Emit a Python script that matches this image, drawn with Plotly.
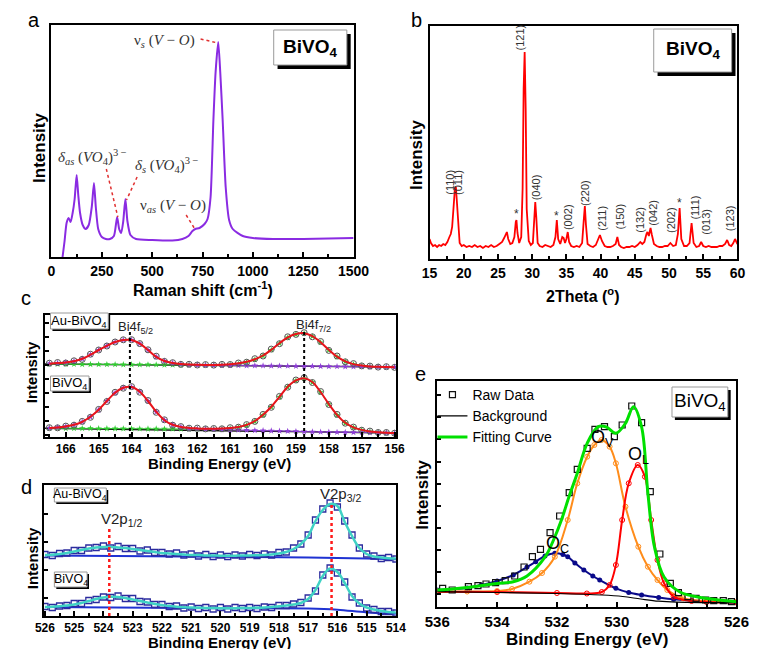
import plotly.graph_objects as go

W, H = 764, 649
FONT = "Liberation Sans"
SERIF = "Liberation Serif"

def px(x):
    return x / W

def py(y):
    return 1 - y / H

# ---------------- (a) Raman ----------------
raman_shift = [55, 65, 75, 85, 95, 105, 115, 125, 133, 142,
               155, 170, 185, 200, 211, 220, 232, 250, 270, 290,
               310, 326, 336, 346, 356, 367, 377, 392, 420, 500,
               600, 650, 680, 700, 714, 735, 760, 775, 790, 804,
               815, 828, 838, 850, 865, 882, 900, 950, 1000, 1100,
               1250, 1500]
raman_int = [0, 16, 34, 39, 35, 44, 58, 82, 62, 44,
             32, 28, 32, 50, 74, 50, 28, 20, 18, 18,
             21, 40, 28, 24, 35, 58, 36, 22, 18, 17,
             16.5, 18, 21, 26, 28, 29, 33, 38, 60, 137,
             185, 215, 185, 137, 70, 37, 28, 21, 19, 18,
             18, 19]
raman_ticks = [0, 250, 500, 750, 1000, 1250, 1500]

# ---------------- (b) XRD ----------------
xrd_2theta = [15.0, 15.2, 15.5, 15.8, 16.1, 16.4, 16.7, 17.0, 17.3, 17.6,
              17.9, 18.1, 18.3, 18.5, 18.7, 18.85, 19.0, 19.2, 19.4, 19.7,
              20.0, 20.4, 20.8, 21.2, 21.6, 22.0, 22.4, 22.8, 23.2, 23.6,
              24.0, 24.4, 24.8, 25.2, 25.6, 25.9, 26.1, 26.3, 26.5, 26.8,
              27.1, 27.4, 27.6, 27.7, 27.85, 28.1, 28.4, 28.6, 28.75, 28.9,
              29.05, 29.2, 29.5, 29.8, 30.1, 30.3, 30.45, 30.6, 30.8, 31.1,
              31.5, 31.9, 32.3, 32.7, 33.1, 33.4, 33.6, 33.8, 34.1, 34.4,
              34.6, 34.8, 35.0, 35.2, 35.4, 35.7, 36.1, 36.5, 36.9, 37.3,
              37.55, 37.7, 37.85, 38.1, 38.5, 38.9, 39.3, 39.6, 39.9, 40.2,
              40.6, 41.0, 41.4, 41.8, 42.2, 42.45, 42.7, 43.0, 43.4, 43.8,
              44.2, 44.6, 45.0, 45.4, 45.8, 46.1, 46.4, 46.7, 46.85, 47.05,
              47.3, 47.5, 47.8, 48.2, 48.6, 49.0, 49.4, 49.8, 50.2, 50.6,
              51.0, 51.3, 51.55, 51.8, 52.2, 52.6, 53.0, 53.3, 53.6, 54.0,
              54.4, 54.7, 55.0, 55.4, 55.8, 56.2, 56.6, 57.0, 57.4, 57.8,
              58.2, 58.5, 58.8, 59.1, 59.4, 59.65, 60.0]
xrd_int = [20, 16, 13, 14, 12, 14, 13, 15, 14, 17,
           22, 25, 32, 52, 70, 72, 58, 30, 16, 13,
           14, 12, 13, 12, 14, 12, 13, 11, 13, 12,
           14, 12, 13, 15, 17, 21, 24, 27, 20, 15,
           16, 22, 37, 39, 26, 16, 22, 70, 170, 207,
           150, 50, 18, 14, 16, 35, 57, 42, 16, 13,
           12, 14, 13, 12, 14, 22, 39, 20, 15, 22,
           21, 16, 20, 27, 17, 13, 12, 13, 12, 16,
           40, 53, 35, 15, 13, 12, 14, 19, 24, 18,
           13, 12, 12, 13, 15, 22, 14, 12, 11, 12,
           12, 13, 12, 14, 17, 15, 17, 25, 27, 23,
           31, 24, 15, 13, 12, 12, 13, 13, 16, 13,
           14, 25, 51, 20, 13, 13, 16, 36, 16, 12,
           13, 17, 13, 12, 13, 12, 12, 12, 13, 13,
           15, 19, 14, 13, 16, 20, 15]
xrd_ticks = [15, 20, 25, 30, 35, 40, 45, 50, 55, 60]
hkl_labels = ["(110)", "(011)", "(121)", "(040)", "(002)", "(220)", "(211)",
              "(150)", "(132)", "(042)", "(202)", "(111)", "(013)", "(123)"]

# ---------------- (c) Bi 4f XPS ----------------
bi_energy = [166.5, 166.25, 166.0, 165.75, 165.5, 165.25, 165.0, 164.75, 164.5, 164.25,
             164.0, 163.75, 163.5, 163.25, 163.0, 162.75, 162.5, 162.25, 162.0, 161.75,
             161.5, 161.25, 161.0, 160.75, 160.5, 160.25, 160.0, 159.75, 159.5, 159.25,
             159.0, 158.75, 158.5, 158.25, 158.0, 157.75, 157.5, 157.25, 157.0, 156.75,
             156.5, 156.25, 156.0]
bi_au_raw = [73.8, 74.5, 74.0, 76.2, 77.6, 82.8, 87.0, 91.0, 95.0, 97.2,
             97.3, 93.4, 87.2, 80.8, 75.6, 74.3, 72.6, 72.7, 72.0, 72.4,
             71.9, 72.6, 72.5, 74.0, 74.8, 78.3, 81.0, 87.9, 93.3, 100.2,
             102.6, 104.3, 100.2, 95.5, 86.6, 81.0, 75.2, 73.4, 71.1, 70.9,
             69.9, 70.3, 69.6]
bi_au_fit = [73.3, 73.9, 74.6, 75.8, 78.2, 82.3, 87.0, 91.2, 95.0, 97.0,
             97.0, 93.3, 87.0, 80.2, 76.0, 73.9, 72.9, 72.4, 72.2, 72.1,
             72.1, 72.3, 72.8, 73.7, 75.2, 77.8, 81.5, 87.3, 93.8, 99.6,
             103.0, 103.8, 100.8, 94.8, 87.2, 80.4, 75.6, 72.9, 71.4, 70.6,
             70.2, 70.0, 69.8]
bi_au_f52 = [73.3, 73.9, 74.6, 75.8, 78.2, 82.3, 87.0, 91.2, 95.0, 97.0,
             97.0, 93.3, 87.0, 80.2, 76.0, 73.9, 72.9, 72.0, 71.9, 71.8,
             71.7, 71.6, 71.55, 71.5, 71.4, 71.3, 71.25, 71.2, 71.1, 71.0,
             70.95, 70.9, 70.8, 70.7, 70.6, 70.5, 70.45, 70.4, 70.3, 70.2,
             70.1, 70.0, 69.9]
bi_au_f72 = [72.9, 72.85, 72.8, 72.75, 72.7, 72.65, 72.6, 72.55, 72.5, 72.45,
             72.4, 72.35, 72.3, 72.25, 72.2, 72.15, 72.1, 72.05, 72.0, 71.95,
             71.9, 71.9, 72.1, 72.9, 74.6, 77.3, 81.1, 87.0, 93.5, 99.3,
             102.7, 103.5, 100.5, 94.5, 86.9, 80.1, 75.3, 72.6, 71.1, 70.4,
             70.0, 69.8, 69.7]
bi_bv_raw = [9.3, 9.2, 10.9, 11.8, 15.6, 19.7, 27.6, 35.5, 44.7, 48.8,
             50.4, 44.8, 36.5, 24.7, 17.2, 11.8, 10.4, 8.8, 8.9, 8.1,
             8.5, 8.2, 9.3, 9.8, 12.4, 15.6, 22.6, 29.7, 40.6, 49.8,
             57.0, 59.3, 54.5, 45.5, 32.5, 22.6, 13.8, 9.9, 6.8, 5.9,
             4.5, 4.5, 3.8]
bi_bv_fit = [9.0, 9.6, 10.6, 12.2, 15.2, 20.2, 27.2, 36.0, 44.2, 49.2,
             50.0, 45.3, 36.0, 25.2, 16.8, 12.2, 10.1, 9.1, 8.6, 8.35,
             8.3, 8.45, 9.0, 10.1, 12.1, 16.0, 22.2, 30.2, 40.2, 50.2,
             56.6, 58.8, 55.0, 45.0, 33.0, 22.2, 14.2, 9.6, 7.1, 5.6,
             4.8, 4.3, 4.0]
bi_bv_f52 = [9.0, 9.6, 10.6, 12.2, 15.2, 20.2, 27.2, 36.0, 44.2, 49.2,
             50.0, 45.3, 36.0, 25.2, 16.8, 12.2, 10.1, 8.2, 8.0, 7.8,
             7.6, 7.4, 7.2, 7.0, 6.8, 6.6, 6.4, 6.2, 6.0, 5.8,
             5.6, 5.4, 5.2, 5.0, 4.9, 4.8, 4.7, 4.6, 4.5, 4.4,
             4.3, 4.2, 4.0]
bi_bv_f72 = [8.8, 8.75, 8.7, 8.65, 8.6, 8.55, 8.5, 8.45, 8.4, 8.35,
             8.3, 8.25, 8.2, 8.15, 8.1, 8.05, 8.0, 7.95, 7.9, 7.9,
             7.9, 8.0, 8.5, 9.6, 11.7, 15.7, 21.9, 29.9, 39.9, 49.9,
             56.3, 58.5, 54.7, 44.7, 32.7, 21.9, 13.9, 9.3, 6.8, 5.4,
             4.7, 4.2, 3.9]
bi_bg_energy = [166.64, 155.96]
bi_au_bg = [73.0, 70.0]
bi_bv_bg = [8.8, 3.9]
bi_peaks = [164.05, 158.75]
bi_ticks = [166, 165, 164, 163, 162, 161, 160, 159, 158, 157, 156]

# ---------------- (d) V 2p XPS ----------------
v_energy = [526.0, 525.75, 525.5, 525.25, 525.0, 524.75, 524.5, 524.25, 524.0, 523.75,
            523.5, 523.25, 523.0, 522.75, 522.5, 522.25, 522.0, 521.75, 521.5, 521.25,
            521.0, 520.75, 520.5, 520.25, 520.0, 519.75, 519.5, 519.25, 519.0, 518.75,
            518.5, 518.25, 518.0, 517.75, 517.5, 517.25, 517.0, 516.75, 516.5, 516.25,
            516.0, 515.75, 515.5, 515.25, 515.0, 514.75, 514.5, 514.25, 514.0]
v_au_raw = [61.5, 60.5, 62.5, 63, 65.5, 65.5, 68, 68.5, 70, 68,
            69.5, 67.5, 67.5, 65, 66, 63.5, 63.5, 62, 63, 61,
            62, 60, 61.5, 59.5, 61, 59.5, 61, 60, 61.5, 60.5,
            62, 61, 63.5, 64, 68, 72, 81, 96, 107, 113,
            109, 95, 81, 68, 62, 60, 57.5, 58.5, 57]
v_au_fit = [61, 61.3, 62, 63, 64.5, 66, 67.5, 68.5, 69, 69,
            68.5, 68, 67, 66, 65, 64, 63, 62.5, 62, 61.5,
            61, 61, 60.5, 60.5, 60.3, 60.3, 60.3, 60.5, 60.5, 60.8,
            61, 61.5, 62.5, 64, 67, 72, 80, 95, 106, 112,
            110, 94, 80, 68, 62, 59.5, 58.5, 57.8, 57.5]
v_bv_raw = [9.5, 8.5, 10, 10.5, 12.5, 12.5, 15.5, 16.5, 19, 18.5,
            20, 17.5, 17.5, 14.5, 14, 11.5, 11.5, 9.5, 10, 8,
            9, 7.5, 8.5, 7, 8.5, 7, 8.5, 7.5, 8.5, 7.5,
            9, 8.5, 10.5, 10.5, 12, 13.5, 18, 25, 41, 48,
            43, 34, 19, 13, 8, 6.5, 4.5, 4.5, 3]
v_bv_fit = [9, 9.3, 9.8, 10.5, 11.5, 13, 15, 17, 18.5, 19.3,
            19, 18, 16.5, 15, 13.5, 12, 11, 10, 9.3, 8.8,
            8.4, 8.2, 8, 8, 7.8, 7.8, 7.8, 8, 8, 8.2,
            8.5, 9, 9.8, 10.5, 11.5, 13, 17, 26, 40, 47.5,
            44, 33, 20, 12.5, 8.5, 6.5, 5, 4, 3.5]
v_au_bg_energy = [526.0, 520.0, 517.0, 515.0, 514.0]
v_au_bg = [60.5, 59.2, 58.5, 57.5, 56.8]
v_bv_bg_energy = [526.0, 520.0, 517.0, 516.0, 515.0, 514.0]
v_bv_bg = [9.0, 7.7, 7.5, 6.3, 3.6, 2.2]
v_peaks = [523.8, 516.2]
v_ticks = [526, 525, 524, 523, 522, 521, 520, 519, 518, 517, 516, 515, 514]

# ---------------- (e) O 1s XPS ----------------
o_raw_energy = [535.82, 535.5, 534.96, 534.64, 534.37, 534.05, 533.73, 533.41, 533.1, 532.82,
                532.55, 532.23, 531.91, 531.59, 531.32, 530.99, 530.73, 530.41, 530.08, 529.82,
                529.5, 529.17, 528.88, 528.56, 528.21, 527.94, 527.62, 527.35, 527.03, 526.76,
                526.44, 526.17]
o_raw = [18.7, 17, 20.3, 21.3, 23, 24.3, 26.3, 31, 40, 50.3,
         57.7, 74.3, 91, 114.3, 137.7, 158.7, 177.7, 180.3, 170.3, 182,
         201, 184.3, 115.3, 53, 23.7, 14.3, 10.3, 8.7, 7, 6.3,
         6.3, 5.3]
o_fit_energy = [536.0, 535.5, 535.0, 534.5, 534.0, 533.46, 533.0, 532.39, 532.1, 531.85,
                531.6, 531.32, 530.99, 530.62, 530.35, 530.03, 529.71, 529.44, 529.17, 528.96,
                528.74, 528.42, 527.89, 527.03, 526.0]
o_fit = [17, 18, 19.5, 21.5, 23.5, 25.3, 31, 50.3, 68, 87,
         110, 133.7, 163.7, 180.3, 180, 173.7, 183.7, 200.3, 180, 113.7,
         60, 30, 15, 8.7, 5.3]
o_v_energy = [536.0, 535.0, 534.0, 533.5, 532.92, 532.5, 532.07, 531.64, 531.32, 530.99,
              530.75, 530.51, 530.24, 530.03, 529.71, 529.28, 528.96, 528.64, 528.31, 527.78,
              527.0, 526.0]
o_v = [15.3, 15.5, 16, 18, 25.3, 34, 50.3, 87, 123.7, 150.3,
       162, 167, 160.3, 143.7, 100.3, 60.3, 40.3, 27, 17, 8.7,
       6, 5]
o_l_energy = [536.0, 534.0, 532.0, 531.0, 530.5, 530.24, 530.03, 529.82, 529.6, 529.3,
              529.06, 528.85, 528.64, 528.42, 528.1, 527.5, 527.0, 526.0]
o_l = [15.3, 15, 14, 13.5, 15, 22, 42, 87, 123.7, 142,
       130.3, 87, 47, 23.7, 10.3, 6, 5, 4.5]
o_c_energy = [536.0, 535.0, 534.53, 534.0, 533.46, 533.0, 532.71, 532.4, 532.07, 531.8,
              531.64, 531.4, 531.1, 530.8, 530.57, 530.03, 529.6, 529.17, 528.6, 528.1,
              527.0, 526.0]
o_c = [17, 19, 22, 26, 32, 40, 45.3, 51, 53.7, 52.5,
       50.3, 44, 37, 31, 27, 18.7, 14.5, 12, 9.5, 7.7,
       5.5, 4.3]
o_bg_energy = [536.0, 534.0, 532.0, 530.5, 529.8, 529.2, 528.6, 528.0, 527.0, 526.0]
o_bg = [15.3, 14.5, 13.5, 12, 10.5, 8, 5.8, 4.8, 4.4, 4.3]
o_ticks = [536, 534, 532, 530, 528, 526]

# ================= figure =================
fig = go.Figure()

# (a)
fig.add_trace(go.Scatter(x=raman_shift, y=raman_int, mode="lines",
                         line=dict(color="#8a2be2", width=2, shape="spline", smoothing=0.6),
                         xaxis="x", yaxis="y", showlegend=False))
# (b)
fig.add_trace(go.Scatter(x=xrd_2theta, y=xrd_int, mode="lines",
                         line=dict(color="#ff0000", width=1.8),
                         xaxis="x2", yaxis="y2", showlegend=False))

# (c)
for bg, f72, f52, raw, fit in [(bi_au_bg, bi_au_f72, bi_au_f52, bi_au_raw, bi_au_fit),
                               (bi_bv_bg, bi_bv_f72, bi_bv_f52, bi_bv_raw, bi_bv_fit)]:
    fig.add_trace(go.Scatter(x=bi_bg_energy, y=bg, mode="lines",
                             line=dict(color="#111111", width=1.5),
                             xaxis="x3", yaxis="y3", showlegend=False))
    fig.add_trace(go.Scatter(x=bi_energy, y=f72, mode="lines+markers",
                             line=dict(color="#33cc33", width=1, shape="spline"),
                             marker=dict(symbol="star", size=5, color="#33cc33"),
                             xaxis="x3", yaxis="y3", showlegend=False))
    fig.add_trace(go.Scatter(x=bi_energy, y=f52, mode="lines+markers",
                             line=dict(color="#8e3fd6", width=1, shape="spline"),
                             marker=dict(symbol="star", size=5, color="#8e3fd6"),
                             xaxis="x3", yaxis="y3", showlegend=False))
    fig.add_trace(go.Scatter(x=bi_energy, y=raw, mode="markers",
                             marker=dict(symbol="circle-open", size=6, color="#555555",
                                         line=dict(width=1)),
                             xaxis="x3", yaxis="y3", showlegend=False))
    fig.add_trace(go.Scatter(x=bi_energy, y=fit, mode="lines",
                             line=dict(color="#e8141c", width=2, shape="spline"),
                             xaxis="x3", yaxis="y3", showlegend=False))

# (d)
for bge, bg, raw, fit in [(v_au_bg_energy, v_au_bg, v_au_raw, v_au_fit),
                          (v_bv_bg_energy, v_bv_bg, v_bv_raw, v_bv_fit)]:
    fig.add_trace(go.Scatter(x=bge, y=bg, mode="lines",
                             line=dict(color="#1f32d2", width=2, shape="spline"),
                             xaxis="x4", yaxis="y4", showlegend=False))
    fig.add_trace(go.Scatter(x=v_energy, y=raw, mode="markers",
                             marker=dict(symbol="square-open", size=6, color="#2b2b9e",
                                         line=dict(width=1.3)),
                             xaxis="x4", yaxis="y4", showlegend=False))
    fig.add_trace(go.Scatter(x=v_energy, y=fit, mode="lines",
                             line=dict(color="#3fd2c4", width=2.5, shape="spline"),
                             xaxis="x4", yaxis="y4", showlegend=False))

# (e)
fig.add_trace(go.Scatter(x=o_c_energy, y=o_c, mode="lines+markers",
                         line=dict(color="#0a0a8a", width=2, shape="spline"),
                         marker=dict(symbol="circle", size=5, color="#0a0a8a"),
                         xaxis="x5", yaxis="y5", showlegend=False))
fig.add_trace(go.Scatter(x=o_v_energy, y=o_v, mode="lines+markers",
                         line=dict(color="#ff8c1a", width=2, shape="spline"),
                         marker=dict(symbol="circle-open", size=5, color="#ff8c1a"),
                         xaxis="x5", yaxis="y5", showlegend=False))
fig.add_trace(go.Scatter(x=o_l_energy, y=o_l, mode="lines+markers",
                         line=dict(color="#ff0000", width=2, shape="spline"),
                         marker=dict(symbol="circle-open", size=5, color="#ff0000"),
                         xaxis="x5", yaxis="y5", showlegend=False))
fig.add_trace(go.Scatter(x=o_raw_energy, y=o_raw, mode="markers", name="Raw Data",
                         marker=dict(symbol="square-open", size=6, color="#111111",
                                     line=dict(width=1.2)),
                         xaxis="x5", yaxis="y5", showlegend=True))
fig.add_trace(go.Scatter(x=o_bg_energy, y=o_bg, mode="lines", name="Background",
                         line=dict(color="#000000", width=1.2, shape="spline"),
                         xaxis="x5", yaxis="y5", showlegend=True))
fig.add_trace(go.Scatter(x=o_fit_energy, y=o_fit, mode="lines", name="Fitting Curve",
                         line=dict(color="#00e000", width=3, shape="spline"),
                         xaxis="x5", yaxis="y5", showlegend=True))


def xaxis(left, right, rng, tickvals, fsize, minor_dtick, anchor):
    return dict(domain=[px(left), px(right)], range=rng, tickmode="array", tickvals=tickvals,
                ticks="inside", ticklen=5, tickwidth=1.5, tickcolor="black",
                showline=True, linewidth=2, linecolor="black", mirror=True,
                showgrid=False, zeroline=False, anchor=anchor,
                tickfont=dict(family=FONT, size=fsize, color="black", weight="bold"),
                minor=dict(dtick=minor_dtick, ticks="inside", ticklen=3, tickcolor="black",
                           showgrid=False))


def yaxis(top, bottom, rng, anchor, ticks="", dtick=None, tick0=0):
    d = dict(domain=[py(bottom), py(top)], range=rng, showticklabels=False,
             showline=True, linewidth=2, linecolor="black", mirror=True,
             showgrid=False, zeroline=False, anchor=anchor, ticks=ticks,
             ticklen=4, tickwidth=1.5, tickcolor="black")
    if dtick:
        d["dtick"] = dtick
        d["tick0"] = tick0
    return d


layout = dict(
    width=W, height=H, margin=dict(l=0, r=0, t=0, b=0),
    paper_bgcolor="white", plot_bgcolor="white",
    xaxis=xaxis(40, 354, [0, 1500], raman_ticks, 14, 125, "y"),
    yaxis=yaxis(25, 257, [0, 232], "x"),
    xaxis2=xaxis(433, 753, [15, 60], xrd_ticks, 14, 2.5, "y2"),
    yaxis2=yaxis(26, 259, [0, 233], "x2"),
    xaxis3=xaxis(33, 398, [166.64, 155.96], bi_ticks, 12, 0.5, "y3"),
    yaxis3=yaxis(315, 437, [0, 122], "x3", "inside", 14, 2),
    xaxis4=xaxis(32, 398, [526.04, 514.0], v_ticks, 12, 0.5, "y4"),
    yaxis4=yaxis(485, 616, [0, 131], "x4", "inside", 28, 18),
    xaxis5=xaxis(441, 752, [536, 526], o_ticks, 15, 1, "y5"),
    yaxis5=yaxis(381, 607, [0, 226], "x5", "inside", 22.15, 12.6),
    legend=dict(x=px(436), y=py(379), xanchor="left", yanchor="top",
                bgcolor="rgba(0,0,0,0)", borderwidth=0, tracegroupgap=0,
                font=dict(family=FONT, size=14, color="black")),
)
fig.update_layout(**layout)

ann = []
shapes = []


def text(x, y, t, size, bold=False, family=FONT, angle=0, color="black",
         xanchor="center", yanchor="middle"):
    ann.append(dict(x=px(x), y=py(y), xref="paper", yref="paper", text=t, showarrow=False,
                    textangle=angle, xanchor=xanchor, yanchor=yanchor,
                    font=dict(family=family, size=size, color=color,
                              weight="bold" if bold else "normal")))


def pline(x0, y0, x1, y1, color, width, dash="solid"):
    shapes.append(dict(type="line", xref="paper", yref="paper",
                       x0=px(x0), y0=py(y0), x1=px(x1), y1=py(y1),
                       line=dict(color=color, width=width, dash=dash)))


def shadow_box(x0, y0, x1, y1, off):
    shapes.append(dict(type="rect", xref="paper", yref="paper",
                       x0=px(x0 + off), y0=py(y0 + off), x1=px(x1 + off), y1=py(y1 + off),
                       fillcolor="black", line=dict(width=0)))
    shapes.append(dict(type="rect", xref="paper", yref="paper",
                       x0=px(x0), y0=py(y0), x1=px(x1), y1=py(y1),
                       fillcolor="white", line=dict(color="#9a9a9a", width=1)))


# panel letters
text(22, 20, "a", 20)
text(419, 20, "b", 20)
text(14, 298, "c", 20)
text(14, 487, "d", 20)
text(424, 374, "e", 20)

# axis titles
text(197, 289, "Raman shift (cm<sup>-1</sup>)", 16, bold=True)
text(27, 148, "Intensity", 17, bold=True, angle=-90)
text(593, 295, "2Theta (<sup>o</sup>)", 16, bold=True)
text(420, 155, "Intensity", 17, bold=True, angle=-90)
text(215, 464, "Binding Energy (eV)", 15, bold=True)
text(20, 372, "Intensity", 15, bold=True, angle=-90)
text(215, 642, "Binding Energy (eV)", 15, bold=True)
text(20, 558, "Intensity", 15, bold=True, angle=-90)
text(597, 639, "Binding Energy (eV)", 17, bold=True)
text(425, 495, "Intensity", 17, bold=True, angle=-90)

# (a) boxes and band labels
shadow_box(271, 30, 347, 65, 4)
text(309, 48, "BiVO<sub>4</sub>", 19, bold=True)
text(191, 41, "ν<sub><i>s</i></sub> (<i>V</i> − <i>O</i>)", 15, family=SERIF,
     color="#333333", xanchor="right")
text(83, 157, "<i>δ</i><sub><i>as</i></sub> (<i>VO</i><sub>4</sub>)<sup>3 −</sup>", 15,
     family=SERIF, color="#333333")
text(160, 165, "<i>δ</i><sub><i>s</i></sub> (<i>VO</i><sub>4</sub>)<sup>3 −</sup>", 15,
     family=SERIF, color="#333333")
text(166, 206, "ν<sub><i>as</i></sub> (<i>V</i> − <i>O</i>)", 15, family=SERIF,
     color="#333333")
pline(195, 39, 213, 43, "#e03030", 1.5, "dot")
pline(97, 169, 109, 217, "#e03030", 1.5, "dot")
pline(129, 177, 118, 200, "#e03030", 1.5, "dot")
pline(180, 215, 189, 229, "#e03030", 1.5, "dot")

# (b) box and hkl labels
shadow_box(666, 29, 747, 72, 4)
text(707, 50, "BiVO<sub>4</sub>", 19, bold=True)
hkl_px = [(454, 182), (462.5, 182), (526.5, 38), (544, 187), (577, 217), (594.5, 193),
          (612, 218), (630.5, 217), (651.5, 220), (665, 213), (684, 220), (708.5, 208),
          (720, 222), (745.5, 218)]
for lab, (hx, hy) in zip(hkl_labels, hkl_px):
    text(hx, hy, lab, 11, angle=-90, color="#333333")
for sx, sy in [(523, 214), (565, 216), (693, 203)]:
    text(sx, sy, "*", 12, color="#333333")

# (c) labels
shadow_box(39, 313, 99, 329, 2)
text(69, 321, "Au-BiVO<sub>4</sub>", 13)
shadow_box(39, 376, 79, 391, 2)
text(59, 383, "BiVO<sub>4</sub>", 13)
text(127, 327, "Bi4f<sub>5/2</sub>", 13, color="#222222")
text(312, 325, "Bi4f<sub>7/2</sub>", 13, color="#222222")
for e in bi_peaks:
    shapes.append(dict(type="line", xref="x3", yref="paper", x0=e, x1=e,
                       y0=py(437), y1=py(332), line=dict(color="black", width=2, dash="dot")))

# (d) labels
shadow_box(43, 488, 97, 502, 2)
text(70, 495, "Au-BiVO<sub>4</sub>", 12.5)
shadow_box(43, 572, 77, 587, 2)
text(60, 580, "BiVO<sub>4</sub>", 12.5)
text(113, 519, "V2p<sub>1/2</sub>", 15, color="#222222")
text(340, 494, "V2p<sub>3/2</sub>", 15, color="#222222")
shapes.append(dict(type="line", xref="x4", yref="paper", x0=v_peaks[0], x1=v_peaks[0],
                   y0=py(616), y1=py(527), line=dict(color="#ff1a1a", width=2.5, dash="dot")))
shapes.append(dict(type="line", xref="x4", yref="paper", x0=v_peaks[1], x1=v_peaks[1],
                   y0=py(616), y1=py(502), line=dict(color="#ff1a1a", width=2.5, dash="dot")))

# (e) labels
shadow_box(685, 387, 743, 417, 3)
text(714, 402, "BiVO<sub>4</sub>", 19)
text(613, 438, "O<sub>V</sub>", 18)
text(650, 455, "O<sub>L</sub>", 18)
text(566, 544, "O<sub>C</sub>", 18)

fig.update_layout(annotations=ann, shapes=shapes)
fig.write_html("out.html")
